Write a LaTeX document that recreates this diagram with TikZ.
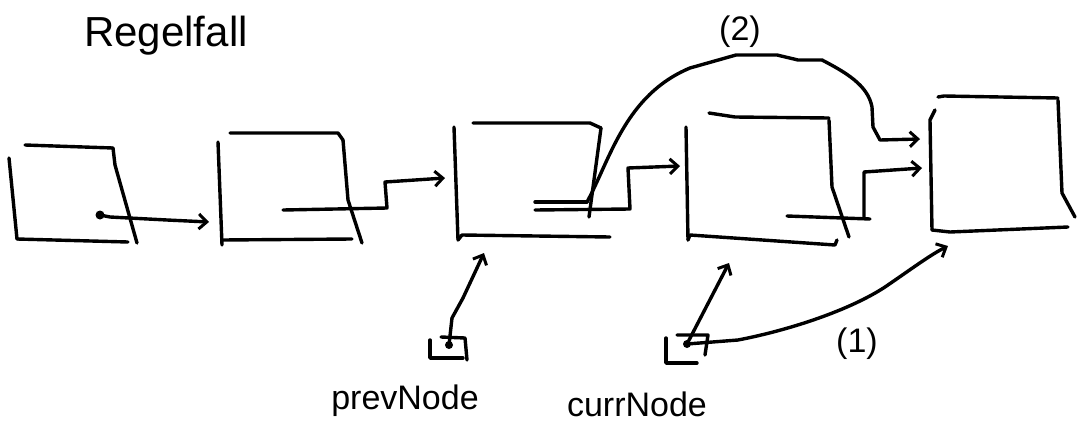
\documentclass[tikz,border=0pt]{standalone}
\usepackage{fontspec}
\setmainfont{Liberation Sans}
\usetikzlibrary{arrows.meta}
\begin{document}
\begin{tikzpicture}[x=1pt,y=-1pt,
  ink/.style={line width=3.4pt,line cap=round,line join=round},
  ptr/.style={ink,-{Straight Barb[length=8pt,width=15pt,line width=3pt]}},
  lbl/.style={inner sep=0pt,font=\fontsize{34}{38}\selectfont},
  numlbl/.style={inner sep=0pt,font=\fontsize{34}{38}\selectfont}]
\useasboundingbox (0,0) rectangle (1077,426);
\fill[white] (0,0) rectangle (1077,426);

% title
\node[inner sep=0pt,font=\fontsize{42}{46}\selectfont] (title) at (166,36) {Regelfall};

% box 1
\draw[ink] (9,158) -- (17,239);
\draw[ink] (25,145) -- (113,148);
\draw[ink] (113,148) -- (115,165) -- (137,243);
\draw[ink] (17,239) -- (128,242);
% box 2
\draw[ink] (230,133) -- (338,133) -- (343,140);
\draw[ink] (343,140) -- (348,200) -- (362,243);
\draw[ink] (218,142) -- (222,245);
\draw[ink] (222,240) -- (352,239);
% box 3
\draw[ink] (473,123) -- (590,123) -- (601,128);
\draw[ink] (601,128) -- (589,217);
\draw[ink] (454,127) -- (458,240);
\draw[ink] (458,240) -- (462,235) -- (610,237);
% box 4
\draw[ink] (709,113) -- (735,117) -- (829,118);
\draw[ink] (829,120) -- (832,187) -- (849,237);
\draw[ink] (686,127) -- (688,240);
\draw[ink] (688,240) -- (690,235) -- (835,245) -- (837,240);
% box 5
\draw[ink] (938,97) -- (944,96) -- (1058,98);
\draw[ink] (1058,100) -- (1062,193) -- (1075,217);
\draw[ink] (935,110) -- (930,120) -- (932,230);
\draw[ink] (932,230) -- (950,232) -- (1068,227);

% named pointer ends
\coordinate (d1) at (100,215);
\coordinate (t2) at (209,222);
\coordinate (s2) at (283,210);
\coordinate (t3) at (445,178);
\coordinate (s3) at (535,210);
\coordinate (t4) at (680,166);
\coordinate (s4) at (787,216);
\coordinate (t5) at (922,168);
\coordinate (s5) at (587,202);
\coordinate (t5b) at (920,139);
\coordinate (pd) at (449,345);
\coordinate (pt) at (484,253);
\coordinate (cd) at (687,344);
\coordinate (ct) at (729,263);
\coordinate (ct2) at (948,246);

% box1 -> box2
\fill (d1) circle (4.5pt);
\draw[ptr] (d1) -- (110,217) -- (167,220) -- (t2);
% box2 -> box3
\draw[ptr] (s2) -- (387,208) -- (385,182) -- (t3);
% box3 -> box4
\draw[ink] (535,202) -- (s5);
\draw[ptr] (s3) -- (630,209) -- (628,168) -- (t4);
% box4 -> box5
\draw[ink] (s4) -- (870,219);
\draw[ptr] (864,218) -- (864,172) -- (t5);
% (2) detour
\draw[ptr] (s5) .. controls (610,160) and (625,95) .. (690,68)
  -- (736,55) -- (777,55) -- (798,60) -- (822,60)
  .. controls (845,72) and (868,85) .. (872,107)
  -- (873,127) -- (880,140) -- (t5b);
\node[numlbl] (two) at (740,32) {(2)};

% prevNode
\draw[ink] (430,340) -- (430,358) -- (463,358);
\draw[ink] (441,337) -- (465,338) -- (467,360);
\fill (pd) circle (4pt);
\draw[ptr] (pd) -- (452,318) -- (463,298) -- (pt);
\node[lbl] (prev) at (405,401) {prevNode};

% currNode
\draw[ink] (666,338) -- (666,363) -- (697,363);
\draw[ink] (677,335) -- (708,335) -- (705,355);
\fill (cd) circle (4pt);
\draw[ptr] (cd) -- (ct);
\draw[ptr] (cd) -- (738,340) .. controls (790,330) and (850,310) .. (885,287) .. controls (910,270) and (930,255) .. (ct2);
\node[numlbl] (one) at (857,344) {(1)};
\node[lbl] (curr) at (637,404) {currNode};
\end{tikzpicture}
\end{document}
